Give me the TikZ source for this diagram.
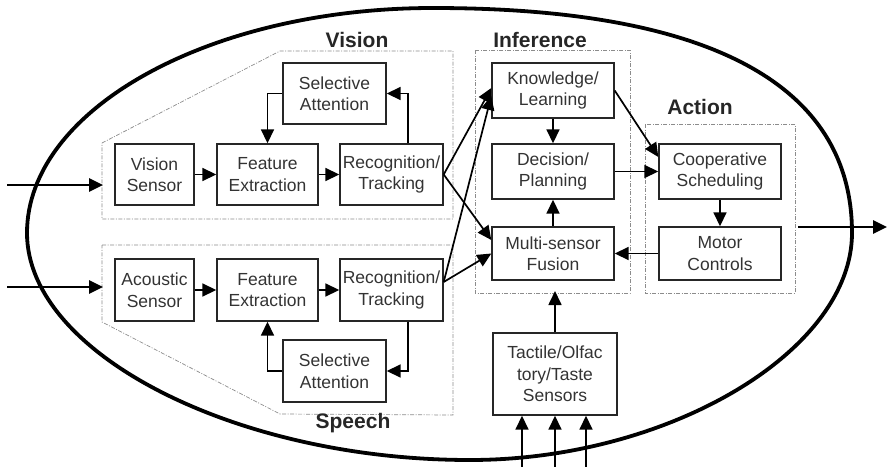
\documentclass[tikz,border=0pt]{standalone}
\usepackage{fontspec}
\setmainfont{Liberation Sans}
\usetikzlibrary{arrows.meta}
\begin{document}
\begin{tikzpicture}[x=1pt,y=-1pt,
  box/.style={draw=black!85,line width=1.4pt,align=center,inner sep=0pt,
    font=\fontsize{17.5}{21.5}\selectfont,text=black!80},
  grp/.style={draw=black!45,line width=0.7pt,dash pattern=on 4pt off 1.5pt on 1pt off 1.5pt},
  ttl/.style={font=\fontsize{21}{24}\selectfont\bfseries,text=black!85},
  arr/.style={line width=1.7pt,-{Triangle[length=14pt,width=13pt]}},
  bigarr/.style={line width=2.8pt,-{Triangle[length=14pt,width=13pt]}}]
\useasboundingbox (0,0) rectangle (889,466);
% outer boundary (egg-like ellipse)
\draw[line width=3.8pt]
  (433,8) .. controls (433+0.66*419,8) and (852,233-0.66*225) .. (852,233)
  .. controls (852,233+0.52*227) and (470+0.52*382,460) .. (470,460)
  .. controls (470-0.53*443,460) and (27,233+0.53*227) .. (27,233)
  .. controls (27,233-0.55*225) and (433-0.55*406,8) .. (433,8) -- cycle;
% groups
\draw[grp] (102,143) -- (280,51) -- (453,51) -- (453,219) -- (102,219) -- cycle;
\draw[grp] (102,245) -- (453,245) -- (453,415) -- (280,414) -- (102,322) -- cycle;
\draw[grp] (475,50) rectangle (630,293);
\draw[grp] (645,124) rectangle (795,293);
% titles
\node[ttl] (tv) at (357,40) {Vision};
\node[ttl] (ti) at (540,40) {Inference};
\node[ttl] (ta) at (700,107) {Action};
\node[ttl] (ts) at (353,423) {Speech};
% vision boxes
\node[box,minimum width=79,minimum height=61] (vs) at (154.5,174.5) {Vision\\Sensor};
\node[box,minimum width=101,minimum height=61] (vfe) at (267.5,174.5) {Feature\\Extraction};
\node[box,minimum width=103,minimum height=61] (vrt) at (391.5,174.5) {Recognition/\\Tracking};
\node[box,minimum width=103,minimum height=61] (vsa) at (334.5,93.5) {Selective\\Attention};
% speech boxes
\node[box,minimum width=79,minimum height=62] (as) at (154.5,290) {Acoustic\\Sensor};
\node[box,minimum width=101,minimum height=62] (sfe) at (267.5,290) {Feature\\Extraction};
\node[box,minimum width=103,minimum height=62] (srt) at (391.5,290) {Recognition/\\Tracking};
\node[box,minimum width=103,minimum height=62] (ssa) at (334.5,371) {Selective\\Attention};
% inference boxes
\node[box,minimum width=122,minimum height=55] (kl) at (553,90.5) {Knowledge/\\Learning};
\node[box,minimum width=122,minimum height=55] (dp) at (553,171.5) {Decision/\\Planning};
\node[box,minimum width=122,minimum height=53] (msf) at (553,253.5) {Multi-sensor\\Fusion};
\node[box,minimum width=124,minimum height=82] (tac) at (555,374) {Tactile/Olfac\\tory/Taste\\Sensors};
% action boxes
\node[box,minimum width=122,minimum height=55] (cs) at (720,171.5) {Cooperative\\Scheduling};
\node[box,minimum width=122,minimum height=53] (mc) at (720,253.5) {Motor\\Controls};
% coordinates
\coordinate (i1s) at (7,185); \coordinate (i1e) at (103,185);
\coordinate (i2s) at (7,287); \coordinate (i2e) at (103,287);
\coordinate (os) at (798,227); \coordinate (oe) at (887,227);
\coordinate (infb) at (555,291);
\coordinate (t1) at (522,470); \coordinate (t2) at (555,470); \coordinate (t3) at (586,470);
% inputs and output
\draw[bigarr] (i1s) -- (i1e);
\draw[bigarr] (i2s) -- (i2e);
\draw[bigarr] (os) -- (oe);
% vision connectors
\draw[arr] (vs) -- (vfe);
\draw[arr] (vfe) -- (vrt);
\draw[arr] (vsa.west) -| (vfe.north);
\draw[arr] ([xshift=16.5pt]vrt.north) |- (vsa.east);
% speech connectors
\draw[arr] (as) -- (sfe);
\draw[arr] (sfe) -- (srt);
\draw[arr] ([xshift=16.5pt]srt.south) |- (ssa.east);
\draw[arr] (ssa.west) -| (sfe.south);
% to inference
\draw[arr] (vrt.east) -- ([yshift=2.5pt]kl.west);
\draw[arr] (vrt.east) -- ([yshift=13.5pt]msf.west);
\draw[arr] ([yshift=8pt]srt.east) -- ([yshift=-5.5pt]kl.west);
\draw[arr] ([yshift=8pt]srt.east) -- (msf.west);
% inference
\draw[arr] (kl) -- (dp);
\draw[arr] (msf) -- (dp);
\draw[arr] (dp) -- (cs);
\draw[arr] (kl.east) -- ([yshift=14.5pt]cs.west);
\draw[arr] (cs) -- (mc);
\draw[arr] (mc) -- (msf);
\draw[arr] (tac.north) -- (infb);
\draw[arr] (t1) -- (t1 |- tac.south);
\draw[arr] (t2) -- (t2 |- tac.south);
\draw[arr] (t3) -- (t3 |- tac.south);
\end{tikzpicture}
\end{document}
